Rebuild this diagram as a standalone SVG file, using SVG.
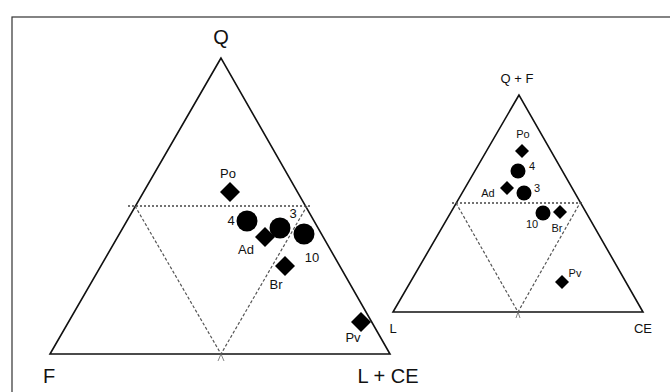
<svg xmlns="http://www.w3.org/2000/svg" width="670" height="392" viewBox="0 0 670 392">
<style>
.frame{fill:#fff;stroke:#333;stroke-width:1.2}
.tri{fill:none;stroke:#111;stroke-width:1.6;stroke-linejoin:miter}
.dot{fill:none;stroke:#444;stroke-width:1.4;stroke-dasharray:2,2}
.dash{fill:none;stroke:#555;stroke-width:1.2;stroke-dasharray:3,2}
.big{font-family:"Liberation Sans",Arial,sans-serif;font-size:20px;fill:#111}
.lb{font-family:"Liberation Sans",Arial,sans-serif;font-size:13px;fill:#111}
.ls{font-family:"Liberation Sans",Arial,sans-serif;font-size:11px;fill:#111}
.mid{font-family:"Liberation Sans",Arial,sans-serif;font-size:13px;fill:#111}
.m{fill:#000}
</style>
<rect class="frame" x="12" y="17" width="680" height="400"/>
<g id="ternary-left">
  <polygon class="tri" points="221,58 50,354 390,354"/>
  <g id="left-grid">
    <line class="dot" x1="128" y1="206" x2="310" y2="206"/>
    <polyline class="dash" points="135,206 221,354 307,206"/>
    <path d="M218,361 L221,354 L224,361" fill="none" stroke="#666" stroke-width="0.8"/>
  </g>
  <text class="big" x="221" y="44" text-anchor="middle">Q</text>
  <text class="big" x="49" y="383" text-anchor="middle">F</text>
  <text class="big" x="388" y="383" text-anchor="middle">L + CE</text>
  <g id="L-Po"><polygon class="m" points="230,182 240,192 230,202 220,192"/><text class="lb" x="228" y="178" text-anchor="middle">Po</text></g>
  <g id="L-4"><circle class="m" cx="247" cy="221" r="10.5"/><text class="lb" x="231" y="225" text-anchor="middle">4</text></g>
  <g id="L-3"><circle class="m" cx="280" cy="228" r="10.5"/><text class="lb" x="293" y="218" text-anchor="middle">3</text></g>
  <g id="L-10"><circle class="m" cx="304" cy="234" r="10.5"/><text class="lb" x="312" y="262" text-anchor="middle">10</text></g>
  <g id="L-Ad"><polygon class="m" points="265,227 275,237 265,247 255,237"/><text class="lb" x="246" y="254" text-anchor="middle">Ad</text></g>
  <g id="L-Br"><polygon class="m" points="285,256 295,266 285,276 275,266"/><text class="lb" x="276" y="289" text-anchor="middle">Br</text></g>
  <g id="L-Pv"><polygon class="m" points="361,312 371,322 361,332 351,322"/><text class="lb" x="353" y="342" text-anchor="middle">Pv</text></g>
</g>
<g id="ternary-right">
  <polygon class="tri" points="519,95 393,312 643,312"/>
  <g id="right-grid">
    <line class="dot" x1="452" y1="203" x2="584" y2="203"/>
    <polyline class="dash" points="456,203 518,312 580,203"/>
    <path d="M516,318 L518,312 L520,318" fill="none" stroke="#666" stroke-width="0.8"/>
  </g>
  <text class="mid" x="517" y="83" text-anchor="middle">Q + F</text>
  <text class="mid" x="393" y="333" text-anchor="middle">L</text>
  <text class="mid" x="643" y="333" text-anchor="middle">CE</text>
  <g id="R-Po"><polygon class="m" points="522,144 529,151 522,158 515,151"/><text class="ls" x="523" y="138" text-anchor="middle">Po</text></g>
  <g id="R-4"><circle class="m" cx="518" cy="171" r="7.5"/><text class="ls" x="532" y="170" text-anchor="middle">4</text></g>
  <g id="R-Ad"><polygon class="m" points="507,181 514,188 507,195 500,188"/><text class="ls" x="488" y="197" text-anchor="middle">Ad</text></g>
  <g id="R-3"><circle class="m" cx="524" cy="193" r="7.5"/><text class="ls" x="537" y="192" text-anchor="middle">3</text></g>
  <g id="R-10"><circle class="m" cx="543" cy="213" r="7.5"/><text class="ls" x="532" y="228" text-anchor="middle">10</text></g>
  <g id="R-Br"><polygon class="m" points="560,205 567,212 560,219 553,212"/><text class="ls" x="557" y="232" text-anchor="middle">Br</text></g>
  <g id="R-Pv"><polygon class="m" points="562,275 569,282 562,289 555,282"/><text class="ls" x="575" y="277" text-anchor="middle">Pv</text></g>
</g>
</svg>
